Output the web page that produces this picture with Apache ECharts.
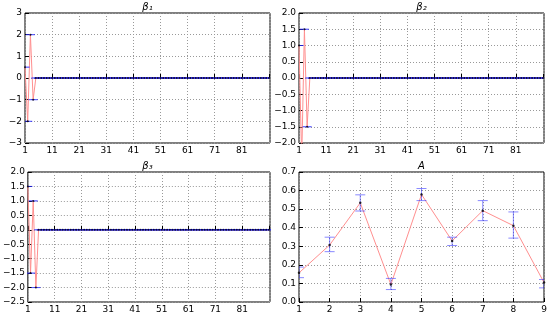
<!DOCTYPE html>
<html>
<head>
<meta charset="utf-8">
<script src="https://cdn.jsdelivr.net/npm/echarts@6/dist/echarts.min.js"></script>
<style>
html,body{margin:0;padding:0;background:#fff}
#chart{width:550px;height:319px}
</style>
</head>
<body>
<div id="chart"></div>
<script>
// coefficient estimates, one per index 1..91
var beta1 = [0.5, -2, 2, -1, 0, 0, 0, 0, 0, 0,
  0, 0, 0, 0, 0, 0, 0, 0, 0, 0,
  0, 0, 0, 0, 0, 0, 0, 0, 0, 0,
  0, 0, 0, 0, 0, 0, 0, 0, 0, 0,
  0, 0, 0, 0, 0, 0, 0, 0, 0, 0,
  0, 0, 0, 0, 0, 0, 0, 0, 0, 0,
  0, 0, 0, 0, 0, 0, 0, 0, 0, 0,
  0, 0, 0, 0, 0, 0, 0, 0, 0, 0,
  0, 0, 0, 0, 0, 0, 0, 0, 0, 0,
  0];
var beta2 = [1.0, -2.5, 1.5, -1.5, 0, 0, 0, 0, 0, 0,
  0, 0, 0, 0, 0, 0, 0, 0, 0, 0,
  0, 0, 0, 0, 0, 0, 0, 0, 0, 0,
  0, 0, 0, 0, 0, 0, 0, 0, 0, 0,
  0, 0, 0, 0, 0, 0, 0, 0, 0, 0,
  0, 0, 0, 0, 0, 0, 0, 0, 0, 0,
  0, 0, 0, 0, 0, 0, 0, 0, 0, 0,
  0, 0, 0, 0, 0, 0, 0, 0, 0, 0,
  0, 0, 0, 0, 0, 0, 0, 0, 0, 0,
  0];
var beta3 = [1.5, -1.5, 1.0, -2.0, 0, 0, 0, 0, 0, 0,
  0, 0, 0, 0, 0, 0, 0, 0, 0, 0,
  0, 0, 0, 0, 0, 0, 0, 0, 0, 0,
  0, 0, 0, 0, 0, 0, 0, 0, 0, 0,
  0, 0, 0, 0, 0, 0, 0, 0, 0, 0,
  0, 0, 0, 0, 0, 0, 0, 0, 0, 0,
  0, 0, 0, 0, 0, 0, 0, 0, 0, 0,
  0, 0, 0, 0, 0, 0, 0, 0, 0, 0,
  0, 0, 0, 0, 0, 0, 0, 0, 0, 0,
  0];

// A panel: x 1..9, estimate and error bar ends
var aX = [1, 2, 3, 4, 5, 6, 7, 8, 9];
var aVal = [0.157, 0.307, 0.534, 0.094, 0.579, 0.329, 0.492, 0.411, 0.105];
var aLow = [0.131, 0.271, 0.490, 0.067, 0.546, 0.304, 0.438, 0.344, 0.076];
var aHigh = [0.188, 0.349, 0.577, 0.127, 0.611, 0.349, 0.546, 0.485, 0.121];

var titles = ['β₁', 'β₂', 'β₃', 'A'];

var redCol = '#ff8f8f';
var barCol = 'rgba(40,40,255,0.55)';
var font = 'DejaVu Sans';

function minus(s) { return String(s).replace('-', '\u2212'); }

function errRender(half) {
  return function (params, api) {
    var x = api.value(0), lo = api.value(1), hi = api.value(2);
    var pLo = api.coord([x, lo]), pHi = api.coord([x, hi]);
    var st = { stroke: barCol, lineWidth: 1 };
    return {
      type: 'group',
      children: [
        { type: 'line', shape: { x1: pLo[0], y1: pLo[1], x2: pHi[0], y2: pHi[1] }, style: st },
        { type: 'line', shape: { x1: pLo[0] - half, y1: pLo[1], x2: pLo[0] + half, y2: pLo[1] }, style: st },
        { type: 'line', shape: { x1: pHi[0] - half, y1: pHi[1], x2: pHi[0] + half, y2: pHi[1] }, style: st }
      ]
    };
  };
}

var grids = [
  { left: 25, top: 13, width: 245, height: 130 },
  { left: 299, top: 13, width: 245, height: 130 },
  { left: 25, top: 172, width: 245, height: 130 },
  { left: 299, top: 172, width: 245, height: 130 }
];
grids.forEach(function (g) { g.show = true; g.borderColor = '#000'; g.borderWidth = 1; g.backgroundColor = '#fff'; });

var yRanges = [
  { min: -3, max: 3, interval: 1, dec: 0 },
  { min: -2, max: 2, interval: 0.5, dec: 1 },
  { min: -2.5, max: 2, interval: 0.5, dec: 1 },
  { min: 0, max: 0.7, interval: 0.1, dec: 1 }
];

var xAxes = [], yAxes = [], series = [];
grids.forEach(function (g, i) {
  var isA = i === 3;
  xAxes.push({
    type: 'value', gridIndex: i,
    min: 1, max: isA ? 9 : 91.4, interval: isA ? 1 : 10,
    axisLine: { show: false },
    axisTick: { inside: true, length: 4, lineStyle: { color: '#000' } },
    splitLine: { show: true, lineStyle: { color: '#999', type: [1, 2], width: 1 } },
    axisLabel: {
      color: '#000', fontFamily: font, fontSize: 9, margin: 3, showMaxLabel: isA,
      formatter: function (v) { return (!isA && v > 85) ? '' : String(v); }
    }
  });
  var r = yRanges[i];
  yAxes.push({
    type: 'value', gridIndex: i,
    min: r.min, max: r.max, interval: r.interval,
    axisLine: { show: false },
    axisTick: { inside: true, length: 4, lineStyle: { color: '#000' } },
    splitLine: { show: true, lineStyle: { color: '#999', type: [1, 2], width: 1 } },
    axisLabel: {
      color: '#000', fontFamily: font, fontSize: 9, margin: 3,
      formatter: function (v) { return minus(v.toFixed(r.dec)); }
    }
  });
});

var betas = [beta1, beta2, beta3];
betas.forEach(function (b, i) {
  var pts = b.map(function (v, k) { return [k + 1, v]; });
  var bars = b.map(function (v, k) { return [k + 1, v, v]; });
  series.push({
    type: 'line', xAxisIndex: i, yAxisIndex: i, data: pts, showSymbol: false,
    lineStyle: { color: redCol, width: 1 }, clip: true, silent: true, z: 2
  });
  series.push({
    type: 'custom', xAxisIndex: i, yAxisIndex: i, data: bars, clip: true,
    renderItem: errRender(4.5), encode: { x: 0, y: [1, 2] }, silent: true, z: 3
  });
  series.push({
    type: 'scatter', xAxisIndex: i, yAxisIndex: i, data: pts, symbolSize: 2,
    itemStyle: { color: '#000' }, silent: true, z: 4
  });
});

var aPts = aX.map(function (x, k) { return [x, aVal[k]]; });
var aBars = aX.map(function (x, k) { return [x, aLow[k], aHigh[k]]; });
series.push({
  type: 'line', xAxisIndex: 3, yAxisIndex: 3, data: aPts, showSymbol: false,
  lineStyle: { color: redCol, width: 1 }, clip: true, silent: true, z: 2
});
series.push({
  type: 'custom', xAxisIndex: 3, yAxisIndex: 3, data: aBars, clip: true,
  renderItem: errRender(5), encode: { x: 0, y: [1, 2] }, silent: true, z: 3
});
series.push({
  type: 'scatter', xAxisIndex: 3, yAxisIndex: 3, data: aPts, symbolSize: 2.5,
  itemStyle: { color: '#000' }, silent: true, z: 4
});

var graphics = grids.map(function (g, i) {
  return {
    type: 'text', x: g.left + g.width / 2, y: g.top - 6,
    style: {
      text: titles[i], fontFamily: font, fontSize: 10, fontStyle: 'italic',
      fill: '#000', textAlign: 'center', textVerticalAlign: 'middle'
    }
  };
});

var option = {
  animation: false,
  backgroundColor: '#fff',
  grid: grids,
  xAxis: xAxes,
  yAxis: yAxes,
  series: series,
  graphic: graphics
};

var chart = echarts.init(document.getElementById('chart'));
chart.setOption(option);
</script>
</body>
</html>
